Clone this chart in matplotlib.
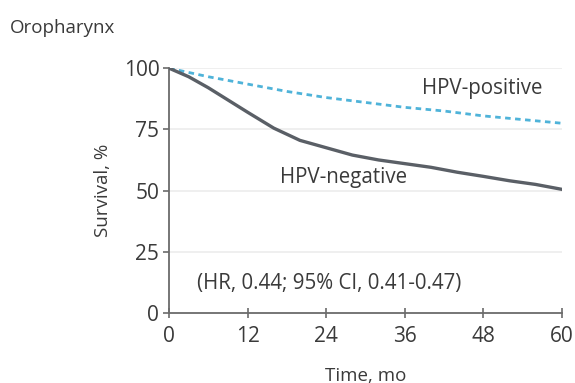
import matplotlib
matplotlib.use("Agg")
import matplotlib.pyplot as plt

months_neg = [0, 3, 6, 9, 12, 16, 20, 24, 28, 32, 36, 40, 44, 48, 52, 56, 60]
surv_neg = [100, 96.5, 92, 87, 82, 75.5, 70.5, 67.5, 64.5, 62.5, 61, 59.5, 57.5, 55.8, 54, 52.5, 50.5]
months_pos = [0, 6, 12, 18, 24, 30, 36, 42, 48, 54, 60]
surv_pos = [100, 96.5, 93.5, 90.5, 88, 86, 84, 82.5, 80.5, 79, 77.5]
xticks = [0, 12, 24, 36, 48, 60]
yticks = [0, 25, 50, 75, 100]

plt.rcParams['font.family'] = ['Open Sans', 'DejaVu Sans']
txt = '#3a3a3a'
fig = plt.figure(figsize=(5.75, 3.83), dpi=100)
ax = fig.add_axes([0.294, 0.183, 0.683, 0.639])
for y in yticks[1:]:
    ax.axhline(y, color='#ececec', lw=1.2, zorder=0)
ax.plot(months_pos, surv_pos, color='#4fb3d9', lw=2, ls=(0, (2, 1.6)), zorder=3)
ax.plot(months_neg, surv_neg, color='#5a5f66', lw=2.4, zorder=4)
ax.set_xlim(0, 60)
ax.set_ylim(0, 100)
ax.set_xticks(xticks)
ax.set_yticks(yticks)
for s in ['top', 'right']:
    ax.spines[s].set_visible(False)
for s in ['left', 'bottom']:
    ax.spines[s].set_color('#6b6b6b')
    ax.spines[s].set_linewidth(1.3)
ax.tick_params(axis='y', colors='#6b6b6b', labelcolor=txt, labelsize=15, length=4, width=1.2, pad=3)
ax.tick_params(axis='x', colors='#6b6b6b', labelcolor=txt, labelsize=15, length=7, width=1.2,
               direction='inout', pad=6)
ax.set_xlabel('Time, mo', fontsize=13.5, color=txt, labelpad=14)
ax.set_ylabel('Survival, %', fontsize=13.5, color=txt, labelpad=8)
ax.text(47.8, 91.5, 'HPV-positive', fontsize=14.8, color=txt, ha='center', va='center')
ax.text(26.7, 55.5, 'HPV-negative', fontsize=14.8, color=txt, ha='center', va='center')
ax.text(4.3, 12.2, '(HR, 0.44; 95% CI, 0.41-0.47)', fontsize=14.8, color=txt, ha='left', va='center')
fig.text(0.017, 0.927, 'Oropharynx', fontsize=13.5, color=txt, ha='left', va='center')
fig.savefig('out.png', dpi=100)
